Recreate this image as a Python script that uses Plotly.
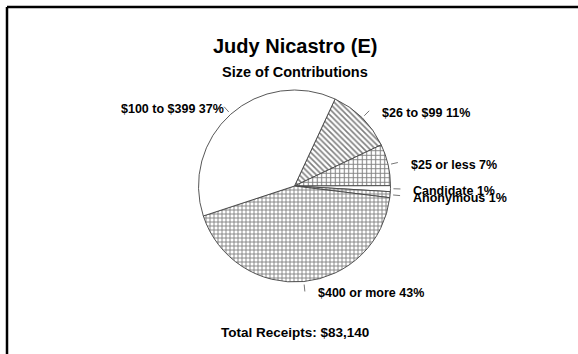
import math
import plotly.graph_objects as go

# Contribution size breakdown, listed clockwise from the first slice
categories = ["$26 to $99", "$25 or less", "Candidate", "Anonymous", "$400 or more", "$100 to $399"]
percents = [11, 7, 1, 1, 43, 37]
fill_patterns = ["\\", "+", "", "+", "+", ""]

chart_title = "Judy Nicastro (E)"
chart_subtitle = "Size of Contributions"
total_text = "Total Receipts: $83,140"

W, H = 578, 354
CX, CY, R = 294.5, 186.0, 96.0   # pie centre and radius in pixels
START_DEG = 25                   # first slice starts 25 deg clockwise from 12 o'clock
FONT = "Liberation Sans, Arial, sans-serif"


def px(x, y):
    """Pixel position -> paper coordinates."""
    return x / W, 1 - y / H


fig = go.Figure(
    go.Pie(
        labels=categories,
        values=percents,
        sort=False,
        direction="clockwise",
        rotation=START_DEG,
        textinfo="none",
        hoverinfo="label+percent",
        marker=dict(
            colors=["white"] * len(categories),
            line=dict(color="#444444", width=0.9),
            pattern=dict(
                shape=fill_patterns,
                fgcolor="black",
                bgcolor="white",
                size=[4, 4.5, 4, 4, 4, 4],
                solidity=0.4,
                fillmode="overlay",
            ),
        ),
        domain=dict(
            x=[(CX - R) / W, (CX + R) / W],
            y=[1 - (CY + R) / H, 1 - (CY - R) / H],
        ),
        showlegend=False,
    )
)

shapes = []
annotations = []

# Leader lines and outside labels at each slice's mid-angle
total = sum(percents)
acc = 0.0
for cat, pct in zip(categories, percents):
    mid = math.radians(START_DEG + 360.0 * (acc + pct / 2.0) / total)
    acc += pct
    sx, cy_ = math.sin(mid), math.cos(mid)
    x0, y0 = CX + (R + 3) * sx, CY - (R + 3) * cy_
    x1, y1 = CX + (R + 10) * sx, CY - (R + 10) * cy_
    p0, p1 = px(x0, y0), px(x1, y1)
    shapes.append(dict(type="line", xref="paper", yref="paper",
                       x0=p0[0], y0=p0[1], x1=p1[0], y1=p1[1],
                       line=dict(color="#777777", width=1)))
    right_side = sx >= 0
    tx = x1 + 11 if right_side else x1 + 2
    ty = y1 + 2
    pt = px(tx, ty)
    annotations.append(dict(
        x=pt[0], y=pt[1], xref="paper", yref="paper",
        text=f"{cat} {pct}%", showarrow=False,
        xanchor="left" if right_side else "right", yanchor="middle",
        font=dict(family=FONT, size=12.5, color="black", weight="bold"),
    ))

# Titles and total
for text, ypix, size in [(chart_title, 46, 20), (chart_subtitle, 72, 14.5), (total_text, 332, 13.5)]:
    pt = px(CX, ypix)
    annotations.append(dict(
        x=pt[0], y=pt[1], xref="paper", yref="paper", text=text, showarrow=False,
        xanchor="center", yanchor="middle",
        font=dict(family=FONT, size=size, color="black", weight="bold"),
    ))

# Page frame: top and left edges
fx, fy = px(7, 7)
shapes.append(dict(type="line", xref="paper", yref="paper", x0=fx, y0=fy, x1=1.0, y1=fy,
                   line=dict(color="black", width=2.5)))
shapes.append(dict(type="line", xref="paper", yref="paper", x0=fx, y0=fy, x1=fx, y1=0.0,
                   line=dict(color="black", width=2.5)))

fig.update_layout(
    width=W, height=H,
    margin=dict(l=0, r=0, t=0, b=0),
    paper_bgcolor="white", plot_bgcolor="white",
    shapes=shapes, annotations=annotations,
)

fig.write_html("out.html")
